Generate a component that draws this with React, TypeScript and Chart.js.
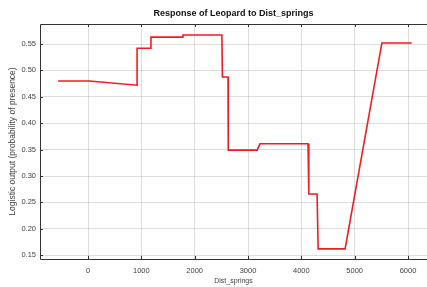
import React, { useEffect, useRef } from "react";
import { Chart, registerables } from "chart.js";

Chart.register(...registerables);

const titleText = "Response of Leopard to Dist_springs";
const xTitle = "Dist_springs";
const yTitle = "Logistic output (probability of presence)";

const distX = [-560, 20, 920, 920, 1180, 1180, 1780, 1780, 2510, 2520, 2625, 2630, 3170, 3225, 4125, 4140, 4295, 4315, 4820, 5510, 6070];
const outputY = [0.48, 0.48, 0.472, 0.542, 0.542, 0.563, 0.563, 0.567, 0.567, 0.4875, 0.4875, 0.349, 0.349, 0.361, 0.361, 0.266, 0.266, 0.162, 0.162, 0.552, 0.552];

const xTicks = [0, 1000, 2000, 3000, 4000, 5000, 6000];
const yTicks = [0.15, 0.2, 0.25, 0.3, 0.35, 0.4, 0.45, 0.5, 0.55];

const FONT = "'Liberation Sans', Arial, sans-serif";

const boxPlugin = {
  id: "boxPlugin",
  afterDatasetsDraw(chart: any) {
    const { ctx, chartArea, scales } = chart;
    ctx.save();
    ctx.strokeStyle = "#333";
    ctx.lineWidth = 1;
    ctx.beginPath();
    ctx.moveTo(chartArea.right + 5, chartArea.top + 0.5);
    ctx.lineTo(chartArea.left + 0.5, chartArea.top + 0.5);
    ctx.lineTo(chartArea.left + 0.5, chartArea.bottom + 0.5);
    ctx.lineTo(chartArea.right + 5, chartArea.bottom + 0.5);
    ctx.stroke();
    ctx.beginPath();
    for (const v of xTicks) {
      const px = Math.round(scales.x.getPixelForValue(v)) + 0.5;
      ctx.moveTo(px, chartArea.top);
      ctx.lineTo(px, chartArea.top + 3);
      ctx.moveTo(px, chartArea.bottom);
      ctx.lineTo(px, chartArea.bottom - 3);
    }
    for (const v of yTicks) {
      const py = Math.round(scales.y.getPixelForValue(v)) + 0.5;
      ctx.moveTo(chartArea.left, py);
      ctx.lineTo(chartArea.left + 3, py);
    }
    ctx.stroke();
    ctx.restore();
  },
};

export default function App() {
  const ref = useRef<HTMLCanvasElement | null>(null);
  useEffect(() => {
    if (!ref.current) return;
    const chart = new Chart(ref.current, {
      type: "line",
      data: {
        datasets: [
          {
            data: distX.map((x, i) => ({ x, y: outputY[i] })),
            borderColor: "#ee1c25",
            borderWidth: 1.6,
            pointRadius: 0,
            fill: false,
            tension: 0,
          },
        ],
      },
      options: {
        animation: false,
        responsive: false,
        maintainAspectRatio: false,
        layout: { padding: { left: 0, right: 0, top: 0, bottom: 0 } },
        plugins: {
          legend: { display: false },
          tooltip: { enabled: false },
          title: {
            display: true,
            text: titleText,
            fullSize: false,
            color: "#111",
            font: { family: FONT, size: 9, weight: "bold", lineHeight: 1.2 },
            padding: { top: 8, bottom: 5.2 },
          },
        },
        scales: {
          x: {
            type: "linear",
            min: -900,
            max: 6356,
            afterBuildTicks(scale: any) {
              scale.ticks = xTicks.map((v) => ({ value: v }));
            },
            afterFit(scale: any) {
              scale.height = 28;
            },
            grid: { color: "rgba(0,0,0,0.13)", drawTicks: false },
            border: { display: false },
            ticks: {
              color: "#444",
              font: { family: FONT, size: 7.5 },
              padding: 7,
              maxRotation: 0,
              callback: (v: any) => String(v),
            },
            title: {
              display: true,
              text: xTitle,
              color: "#444",
              font: { family: FONT, size: 7 },
              padding: { top: 1, bottom: 1.5 },
            },
          },
          y: {
            type: "linear",
            min: 0.1428,
            max: 0.5879,
            afterBuildTicks(scale: any) {
              scale.ticks = yTicks.map((v) => ({ value: v }));
            },
            afterFit(scale: any) {
              scale.width = 40;
            },
            grid: { color: "rgba(0,0,0,0.13)", drawTicks: false },
            border: { display: false },
            ticks: {
              color: "#444",
              font: { family: FONT, size: 7.5 },
              padding: 4,
              callback: (v: any) => Number(v).toFixed(2),
            },
            title: {
              display: true,
              text: yTitle,
              color: "#444",
              font: { family: FONT, size: 8.5 },
              padding: { top: 8, bottom: 0 },
            },
          },
        },
      },
      plugins: [boxPlugin],
    } as any);
    return () => chart.destroy();
  }, []);
  return (
    <div style={{ position: "fixed", left: 0, top: 0, width: 427, height: 287, background: "#fff" }}>
      <canvas ref={ref} width={427} height={287} style={{ width: 427, height: 287, display: "block" }} />
    </div>
  );
}
